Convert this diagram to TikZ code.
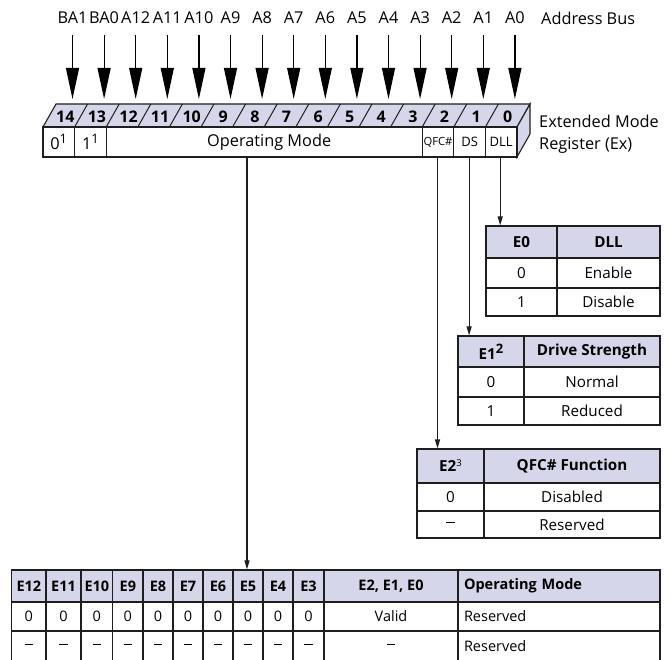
\documentclass[tikz,border=0pt]{standalone}
\usepackage{fontspec}
\setmainfont{Open Sans}
\usetikzlibrary{arrows.meta}
\definecolor{hdr}{RGB}{214,214,234}
\definecolor{ink}{RGB}{30,30,30}
\newcommand\cellnode[7]{%
  \node[#6, minimum width={(#4-#2)*1pt}, minimum height={(#5-#3)*1pt}] (#1) at ({(#2+#4)/2},{(#3+#5)/2}) {#7};}
\newcommand\dsh{\rule[4.3pt]{8.5pt}{1.2pt}}
\begin{document}
\begin{tikzpicture}[x=1pt,y=-1pt,
  lbl/.style={font=\fontsize{16.3}{18}\selectfont, inner sep=0pt},
  busarrow/.style={-{Triangle[length=31pt,width=13pt]}, line width=1.2pt},
  regcell/.style={draw=ink, line width=1.1pt, inner sep=0pt, fill=white, font=\fontsize{16.3}{18}\selectfont},
  bitnum/.style={font=\bfseries\fontsize{16}{18}\selectfont, inner sep=0pt},
  tcell/.style={draw=ink, line width=1.1pt, inner sep=0pt, font=\fontsize{15.2}{17}\selectfont},
  thead/.style={tcell, fill=hdr, font=\bfseries\fontsize{15.2}{17}\selectfont},
  btcell/.style={tcell, font=\fontsize{14.5}{16}\selectfont},
  bthead/.style={thead, font=\bfseries\fontsize{14.5}{16}\selectfont},
  leftcell/.style={text width={(#1)*1pt-12pt}, align=left},
  conn/.style={-{Triangle[length=9pt,width=5pt]}, line width=1.1pt, draw=ink},
]
\useasboundingbox (0,0) rectangle (672,660);

% ---- address bus ----
\foreach \lab [count=\k from 0] in {BA1,BA0,A12,A11,A10,A9,A8,A7,A6,A5,A4,A3,A2,A1,A0} {
  \pgfmathsetmacro\xx{72.5+31.6*\k}
  \node[lbl] (bus\k) at (\xx,18) {\lab};
  \coordinate (src\k) at (\xx,35);
  \coordinate (tip\k) at (\xx,99);
  \draw[busarrow] (src\k) -- (tip\k);
}
\node[lbl, anchor=west] (busname) at (541,18) {Address Bus};

% ---- register (3D bar) ----
\filldraw[fill=hdr, draw=ink, line width=1.1pt] (43,127) -- (517,127) -- (530,104) -- (56,104) -- cycle;
\filldraw[fill=hdr, draw=ink, line width=1.1pt] (517,127) -- (530,104) -- (530,134) -- (517,157) -- cycle;
\foreach \j in {1,...,14} {
  \draw[ink, line width=1pt] ({43+31.6*\j},127) -- ({56+31.6*\j},104);
}
\foreach \b in {14,13,...,0} {
  \node[bitnum] (bit\b) at ({43+31.6*(14-\b)+15.8+6.5},116.5) {\b};
}
\cellnode{r14}{43}{127}{74.6}{157}{regcell}{0\raisebox{6pt}{\fontsize{13}{13}\selectfont 1}}
\cellnode{r13}{74.6}{127}{106.2}{157}{regcell}{1\raisebox{6pt}{\fontsize{13}{13}\selectfont 1}}
\cellnode{ropm}{106.2}{127}{422.2}{157}{regcell}{\hspace*{10pt}Operating Mode}
\cellnode{rqfc}{422.2}{127}{453.8}{157}{regcell, font=\fontsize{11.2}{12}\selectfont}{QFC\#}
\cellnode{rds}{453.8}{127}{485.4}{157}{regcell, font=\fontsize{13}{14}\selectfont}{DS}
\cellnode{rdll}{485.4}{127}{517}{157}{regcell, font=\fontsize{13}{14}\selectfont}{DLL}
\node[lbl, anchor=west] (regname1) at (539,121) {Extended Mode};
\node[lbl, anchor=west] (regname2) at (539,145) {Register (Ex)};

% ---- DLL table ----
\cellnode{t0h1}{486}{226}{557}{258}{thead}{E0}
\cellnode{t0h2}{557}{226}{660}{258}{thead}{DLL}
\cellnode{t0a1}{486}{258}{557}{288}{tcell}{0}
\cellnode{t0a2}{557}{258}{660}{288}{tcell}{Enable}
\cellnode{t0b1}{486}{288}{557}{316}{tcell}{1}
\cellnode{t0b2}{557}{288}{660}{316}{tcell}{Disable}

% ---- Drive strength table ----
\cellnode{t1h1}{458}{336}{524}{367}{thead}{E1\raisebox{6pt}{\fontsize{13}{13}\selectfont 2}}
\cellnode{t1h2}{524}{336}{660}{367}{thead}{Drive Strength}
\cellnode{t1a1}{458}{367}{524}{397}{tcell}{0}
\cellnode{t1a2}{524}{367}{660}{397}{tcell}{Normal}
\cellnode{t1b1}{458}{397}{524}{425}{tcell}{1}
\cellnode{t1b2}{524}{397}{660}{425}{tcell}{Reduced}

% ---- QFC table ----
\cellnode{t2h1}{417}{449}{484}{483}{thead}{E2\raisebox{5pt}{\fontsize{9.5}{10}\mdseries\selectfont 3}}
\cellnode{t2h2}{484}{449}{660}{483}{thead}{QFC\# Function}
\cellnode{t2a1}{417}{483}{484}{511}{tcell}{0}
\cellnode{t2a2}{484}{483}{660}{511}{tcell}{Disabled}
\cellnode{t2b1}{417}{511}{484}{538}{tcell}{\dsh}
\cellnode{t2b2}{484}{511}{660}{538}{tcell}{Reserved}

% ---- operating mode table ----
\begin{scope}
\clip (0,0) rectangle (672,660);
\foreach \nm/\xa/\xb [count=\i] in {E12/11.7/46,E11/46/81,E10/81/112.7,E9/112.7/143,E8/143/173,E7/173/203,E6/203/233,E5/233/263,E4/263/293,E3/293/324} {
  \cellnode{bh\i}{\xa}{570}{\xb}{602}{bthead}{\nm}
  \cellnode{ba\i}{\xa}{602}{\xb}{631}{btcell}{0}
  \cellnode{bb\i}{\xa}{631}{\xb}{662}{btcell}{\dsh}
}
\cellnode{bhv}{324}{570}{458}{602}{bthead}{E2, E1, E0}
\cellnode{bav}{324}{602}{458}{631}{btcell}{Valid}
\cellnode{bbv}{324}{631}{458}{662}{btcell}{\dsh}
\cellnode{bhm}{458}{570}{660}{602}{bthead, leftcell=202}{Operating Mode}
\cellnode{bam}{458}{602}{660}{631}{btcell, leftcell=202}{Reserved}
\cellnode{bbm}{458}{631}{660}{662}{btcell, leftcell=202}{Reserved}
\end{scope}

% ---- connectors ----
\coordinate (opmout) at (247,157);
\draw[conn] (opmout) -- (opmout |- bh8.north);
\draw[conn] ([xshift=-0.5pt]rqfc.south) -- ([xshift=-0.5pt]rqfc.south |- t2h1.north);
\draw[conn] ([xshift=-0.5pt]rds.south) -- ([xshift=-0.5pt]rds.south |- t1h1.north);
\draw[conn] ([xshift=-1pt]rdll.south) -- ([xshift=-1pt]rdll.south |- t0h1.north);
\end{tikzpicture}
\end{document}
